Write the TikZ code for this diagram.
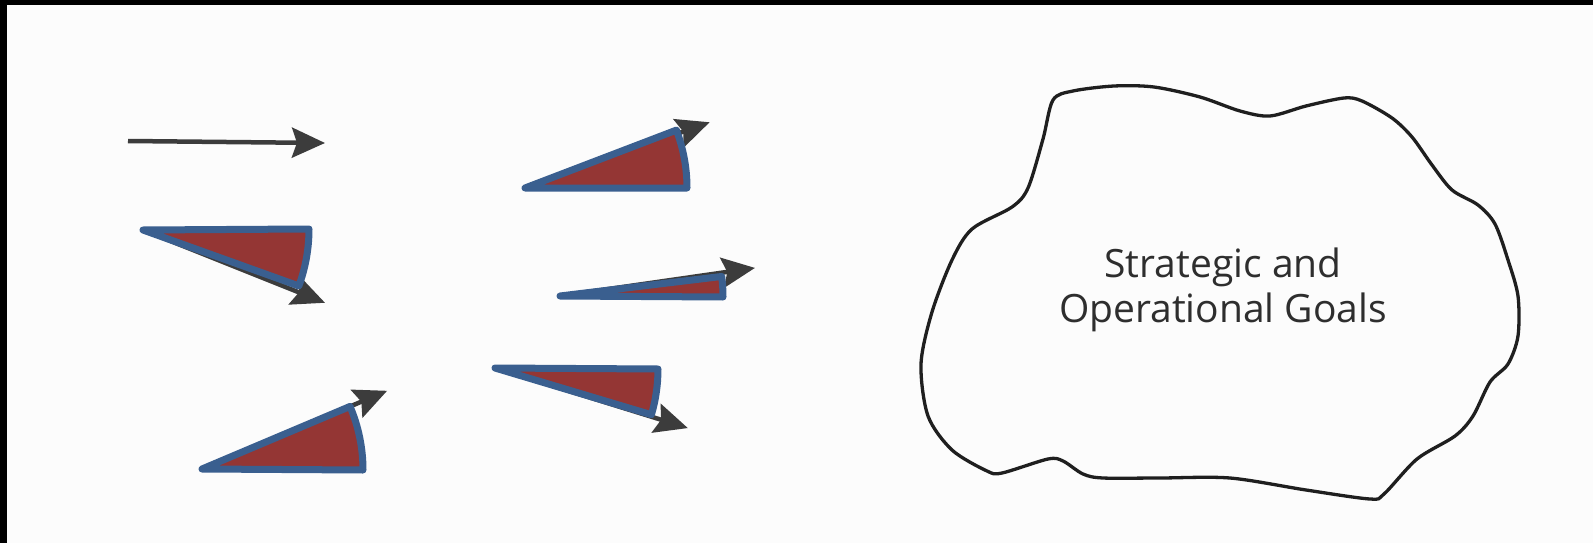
\documentclass[tikz,border=0pt]{standalone}
\usepackage{fontspec}
\setmainfont{Open Sans}
\usetikzlibrary{arrows.meta}
\definecolor{wedgered}{HTML}{943634}
\definecolor{wedgeblue}{HTML}{3A5F8F}
\definecolor{arrowgray}{HTML}{3C3C3C}
\definecolor{textgray}{HTML}{2E2E2E}
\tikzset{
  vecarrow/.style={draw=arrowgray, line width=4.5pt,
    -{Stealth[length=33pt, width=30pt, inset=5pt]}},
  wedgeshape/.style={fill=wedgered, draw=wedgeblue, line width=7pt, line join=round, line cap=round},
  cloudline/.style={draw=black!88, line width=3.3pt, line join=round},
  goaltext/.style={text=textgray, align=center, font=\fontsize{39}{45}\selectfont}
}
\begin{document}
\begin{tikzpicture}[x=1pt, y=-1pt]
\useasboundingbox (0,0) rectangle (1593,543);
\fill[white!98!gray] (0,0) rectangle (1593,543);
\fill[black] (0,0) rectangle (1593,5);
\fill[black] (0,0) rectangle (7,543);

% plain arrow
\coordinate (p0) at (128,141);
\coordinate (p1) at (325,143);
\draw[vecarrow] (p0) -- (p1);

% wedge apexes
\coordinate (a1) at (143,230);
\coordinate (a2) at (525,188);
\coordinate (a3) at (560,296);
\coordinate (a4) at (495,368);
\coordinate (a5) at (202,469);

\path (a1) ++(21.8:196) coordinate (t1);
\path (a2) ++(-19.6:196) coordinate (t2);
\path (a3) ++(-8.2:197) coordinate (t3);
\path (a4) ++(17.3:202) coordinate (t4);
\path (a5) ++(-22.9:201) coordinate (t5);

\draw[vecarrow] (a1) -- (t1);
\draw[vecarrow] (a2) -- (t2);
\draw[vecarrow] (a3) -- (t3);
\draw[vecarrow] (a4) -- (t4);
\draw[vecarrow] (a5) -- (t5);

\draw[wedgeshape] (a1) -- ++(166,-1) arc[start angle=0, end angle=20.2, radius=165] -- cycle;
\draw[wedgeshape] (a2) -- ++(162,0) arc[start angle=0, end angle=-20.8, radius=163] -- cycle;
\draw[wedgeshape] (a3) -- ++(163,1) arc[start angle=0, end angle=-7.2, radius=164] -- cycle;
\draw[wedgeshape] (a4) -- ++(163,1) arc[start angle=0, end angle=16.4, radius=162] -- cycle;
\draw[wedgeshape] (a5) -- ++(161,1) arc[start angle=0, end angle=-23.1, radius=162] -- cycle;

% cloud
\draw[cloudline] plot[smooth cycle, tension=0.5] coordinates {
 (1053,100) (1073,91) (1114,86) (1154,87) (1200,97) (1240,111) (1270,116)
 (1306,106) (1344,98) (1362,101) (1392,118) (1412,137) (1432,165) (1452,190)
 (1478,205) (1495,224) (1508,260) (1518,296) (1518,336) (1508,364) (1490,382)
 (1473,416) (1455,436) (1417,459) (1384,494) (1370,499) (1306,490) (1230,478)
 (1160,478) (1103,478) (1083,474) (1063,461) (1048,459) (1002,473) (987,471)
 (952,450) (928,416) (921,364) (932,312) (952,260) (972,229) (1012,207)
 (1028,188) (1043,139)
};
\node[goaltext] (goals) at (1223,290) {Strategic and\\Operational Goals};
\end{tikzpicture}
\end{document}
